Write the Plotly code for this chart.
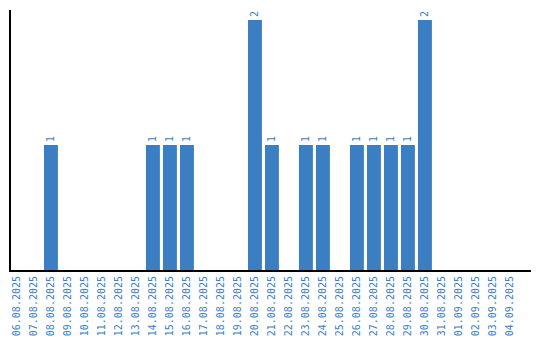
import plotly.graph_objects as go

dates = ["06.08.2025","07.08.2025","08.08.2025","09.08.2025","10.08.2025","11.08.2025",
         "12.08.2025","13.08.2025","14.08.2025","15.08.2025","16.08.2025","17.08.2025",
         "18.08.2025","19.08.2025","20.08.2025","21.08.2025","22.08.2025","23.08.2025",
         "24.08.2025","25.08.2025","26.08.2025","27.08.2025","28.08.2025","29.08.2025",
         "30.08.2025","31.08.2025","01.09.2025","02.09.2025","03.09.2025","04.09.2025"]
counts = [0,0,1,0,0,0,0,0,1,1,1,0,0,0,2,1,0,1,1,0,1,1,1,1,2,0,0,0,0,0]

blue = "#3b7ec2"
labels = [str(v) if v > 0 else "" for v in counts]

fig = go.Figure(go.Bar(
    x=dates, y=counts, marker_color=blue, marker_line_width=0,
    text=labels, textposition="outside", textangle=-90,
    textfont=dict(color=blue, size=10, family="DejaVu Sans Mono"),
    cliponaxis=False,
))
fig.update_layout(
    width=540, height=340, margin=dict(l=11, r=9, t=10, b=70, autoexpand=False),
    plot_bgcolor="white", paper_bgcolor="white", bargap=0.18, showlegend=False,
)
fig.update_xaxes(showline=True, linecolor="black", linewidth=2, tickangle=-90,
                 tickfont=dict(color=blue, size=10, family="DejaVu Sans Mono"),
                 showgrid=False, ticks="", automargin=False, range=[-0.35, 30.24])
fig.update_yaxes(showline=True, linecolor="black", linewidth=2, range=[0, 2.08],
                 showticklabels=False, showgrid=False, zeroline=False, ticks="",
                 automargin=False)
fig.write_html("out.html")
